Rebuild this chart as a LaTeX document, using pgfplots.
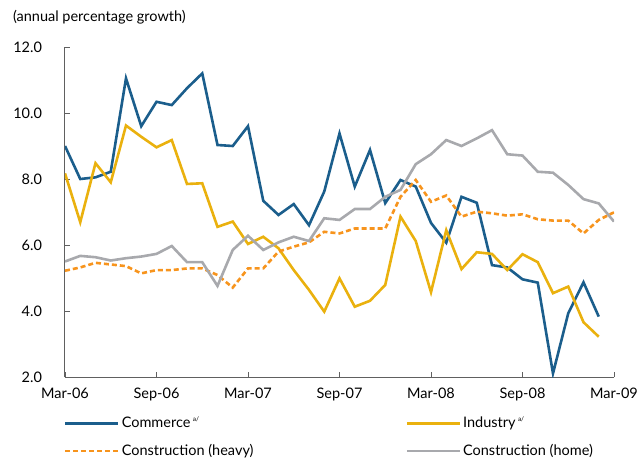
\documentclass[border=0pt]{standalone}
\usepackage{fontspec}
\setmainfont{Lato}
\usepackage{pgfplots}
\usepackage{pgfplotstable}
\pgfplotsset{compat=1.18}
\definecolor{cblue}{HTML}{1B5E8C}
\definecolor{cyellow}{HTML}{EAB10E}
\definecolor{corange}{HTML}{F7941D}
\definecolor{cgray}{HTML}{A8A9AD}
\definecolor{axgray}{HTML}{606060}

\pgfplotstableread{
x y
0 9.00
1 8.00
2 8.05
3 8.22
4 11.05
5 9.60
6 10.34
7 10.24
8 10.75
9 11.20
10 9.03
11 9.00
12 9.60
13 7.34
14 6.91
15 7.24
16 6.60
17 7.62
18 9.38
19 7.77
20 8.88
21 7.27
22 7.97
23 7.77
24 6.67
25 6.07
26 7.46
27 7.28
28 5.39
29 5.32
30 4.96
31 4.86
32 2.11
33 3.93
34 4.87
35 3.83
}\commerce

\pgfplotstableread{
x y
0 8.17
1 6.69
2 8.48
3 7.90
4 9.62
5 9.28
6 8.96
7 9.18
8 7.85
9 7.87
10 6.55
11 6.71
12 6.03
13 6.25
14 5.90
15 5.24
16 4.64
17 3.98
18 4.99
19 4.13
20 4.31
21 4.79
22 6.86
23 6.12
24 4.57
25 6.45
26 5.27
27 5.78
28 5.73
29 5.24
30 5.72
31 5.48
32 4.54
33 4.74
34 3.66
35 3.22
}\industry

\pgfplotstableread{
x y
0 5.22
1 5.32
2 5.46
3 5.41
4 5.36
5 5.14
6 5.24
7 5.24
8 5.29
9 5.29
10 5.09
11 4.71
12 5.29
13 5.29
14 5.80
15 5.95
16 6.08
17 6.40
18 6.35
19 6.50
20 6.50
21 6.50
22 7.46
23 7.97
24 7.31
25 7.50
26 6.86
27 7.01
28 6.96
29 6.89
30 6.93
31 6.78
32 6.74
33 6.74
34 6.35
35 6.76
36 6.99
}\heavy

\pgfplotstableread{
x y
0 5.50
1 5.67
2 5.63
3 5.53
4 5.60
5 5.65
6 5.73
7 5.97
8 5.48
9 5.48
10 4.76
11 5.85
12 6.28
13 5.85
14 6.08
15 6.25
16 6.12
17 6.81
18 6.76
19 7.09
20 7.09
21 7.46
22 7.67
23 8.45
24 8.75
25 9.18
26 9.00
27 9.23
28 9.48
29 8.75
30 8.71
31 8.22
32 8.19
33 7.82
34 7.39
35 7.26
36 6.71
}\home

\begin{document}
\fontsize{14.5bp}{17bp}\selectfont
\begin{tikzpicture}
\useasboundingbox (-65bp,-86bp) rectangle (572bp,377bp);
\node[anchor=west] at (-57bp,360bp) {(annual percentage growth)};
\begin{axis}[
  at={(0,0)}, anchor=south west,
  scale only axis, width=549bp, height=330bp,
  xmin=0, xmax=36, ymin=2, ymax=12,
  axis x line*=bottom, axis y line*=left,
  axis line style={axgray, line width=1bp},
  tick style={axgray, line width=0.8bp},
  tick align=inside, major tick length=5bp,
  xtick={0,6,12,18,24,30,36},
  xticklabels={Mar-06,Sep-06,Mar-07,Sep-07,Mar-08,Sep-08,Mar-09},
  ytick={2,4,6,8,10,12},
  yticklabel={\pgfmathprintnumber[fixed,fixed zerofill,precision=1]{\tick}},
  /pgf/number format/assume math mode=true,
  ticklabel style={font=\fontsize{14.5bp}{17bp}\selectfont},
  yticklabel style={xshift=-18bp},
  xticklabel style={yshift=-6bp},
  legend columns=2,
  legend cell align=left,
  legend style={at={(axis description cs:0,0)}, anchor=north west,
    xshift=-4bp, yshift=-36bp, draw=none, fill=none,
    font=\fontsize{14.5bp}{17bp}\selectfont,
    row sep=10bp,
    /tikz/every even column/.append style={column sep=150bp}},
  legend image code/.code={\draw[#1] (0bp,0bp) -- (53bp,0bp);},
  every axis plot/.append style={line width=2.6bp},
]
\addplot[cblue, no markers] table {\commerce};
\addlegendentry{Commerce\,\raisebox{6bp}{\fontsize{6.5bp}{7bp}\selectfont a/}}
\addplot[cyellow, no markers] table {\industry};
\addlegendentry{Industry\,\raisebox{6bp}{\fontsize{6.5bp}{7bp}\selectfont a/}}
\addplot[corange, no markers, dash pattern=on 5bp off 3bp] table {\heavy};
\addlegendentry{Construction (heavy)}
\addplot[cgray, no markers] table {\home};
\addlegendentry{Construction (home)}
\end{axis}
\end{tikzpicture}
\end{document}
